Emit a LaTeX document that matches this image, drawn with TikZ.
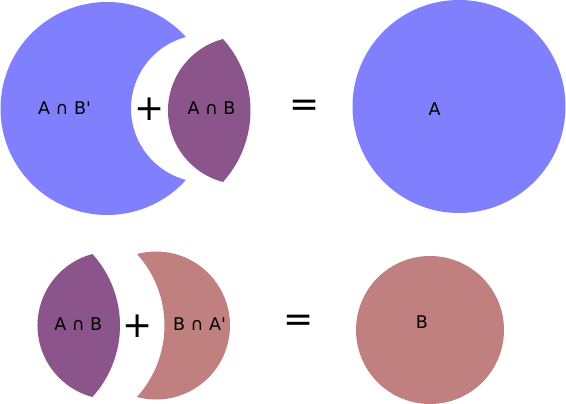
\documentclass[tikz,border=0pt]{standalone}
\usepackage{fontspec}
\newfontfamily\vennfont{DejaVu Sans}
\definecolor{setA}{RGB}{128,128,255}
\definecolor{setB}{RGB}{192,128,128}
\definecolor{setAB}{RGB}{139,84,139}
\tikzstyle{setname}=[font=\vennfont\fontsize{17.5}{20}\selectfont,inner sep=0pt]
\tikzstyle{sign}=[font=\vennfont\fontsize{36}{40}\selectfont,inner sep=0pt]
\def\ra{106.5}
\def\rb{74}
\def\ta{42.17}  % tip angle seen from the centre of A
\def\tb{104.93} % tip angle seen from the centre of B
\begin{document}
\begin{tikzpicture}[x=1pt,y=-1pt]
\useasboundingbox (0,0) rectangle (566,404);

% top row: A minus B, plus the lens, gives A
\fill[setA] (107,108.5) ++(-\ta:\ra pt)
  arc[start angle=-\ta,end angle=\ta-360,radius=\ra pt]
  arc[start angle=\tb,end angle=360-\tb,radius=\rb pt] -- cycle;
\fill[setAB] (144,110.5) ++(-\ta:\ra pt)
  arc[start angle=360-\tb,end angle=\tb,radius=\rb pt]
  arc[start angle=\ta,end angle=-\ta,radius=\ra pt] -- cycle;
\fill[setA] (459,106.5) circle[radius=\ra pt];

\node (anotb) [setname] at (64.5,108.5) {A ∩ B\textquotesingle};
\node (plustop) [sign] at (150,109) {+};
\node (abtop) [setname] at (211.5,108.5) {A ∩ B};
\node (eqtop) [sign] at (305,108.5) {=};
\node (a) [setname] at (434.5,109) {A};

% bottom row: the lens, plus B minus A, gives B
\fill[setAB] (13.5,325.5) ++(-\ta:\ra pt)
  arc[start angle=360-\tb,end angle=\tb,radius=\rb pt]
  arc[start angle=\ta,end angle=-\ta,radius=\ra pt] -- cycle;
\fill[setB] (58,325.5) ++(-\ta:\ra pt)
  arc[start angle=-\tb,end angle=\tb,radius=\rb pt]
  arc[start angle=\ta,end angle=-\ta,radius=\ra pt] -- cycle;
\fill[setB] (430,330) circle[radius=\rb pt];

\node (abbot) [setname] at (78.3,324) {A ∩ B};
\node (plusbot) [sign] at (137.7,326) {+};
\node (bnota) [setname] at (199.5,324) {B ∩ A\textquotesingle};
\node (eqbot) [sign] at (299,323) {=};
\node (b) [setname] at (422,322) {B};

\end{tikzpicture}
\end{document}
